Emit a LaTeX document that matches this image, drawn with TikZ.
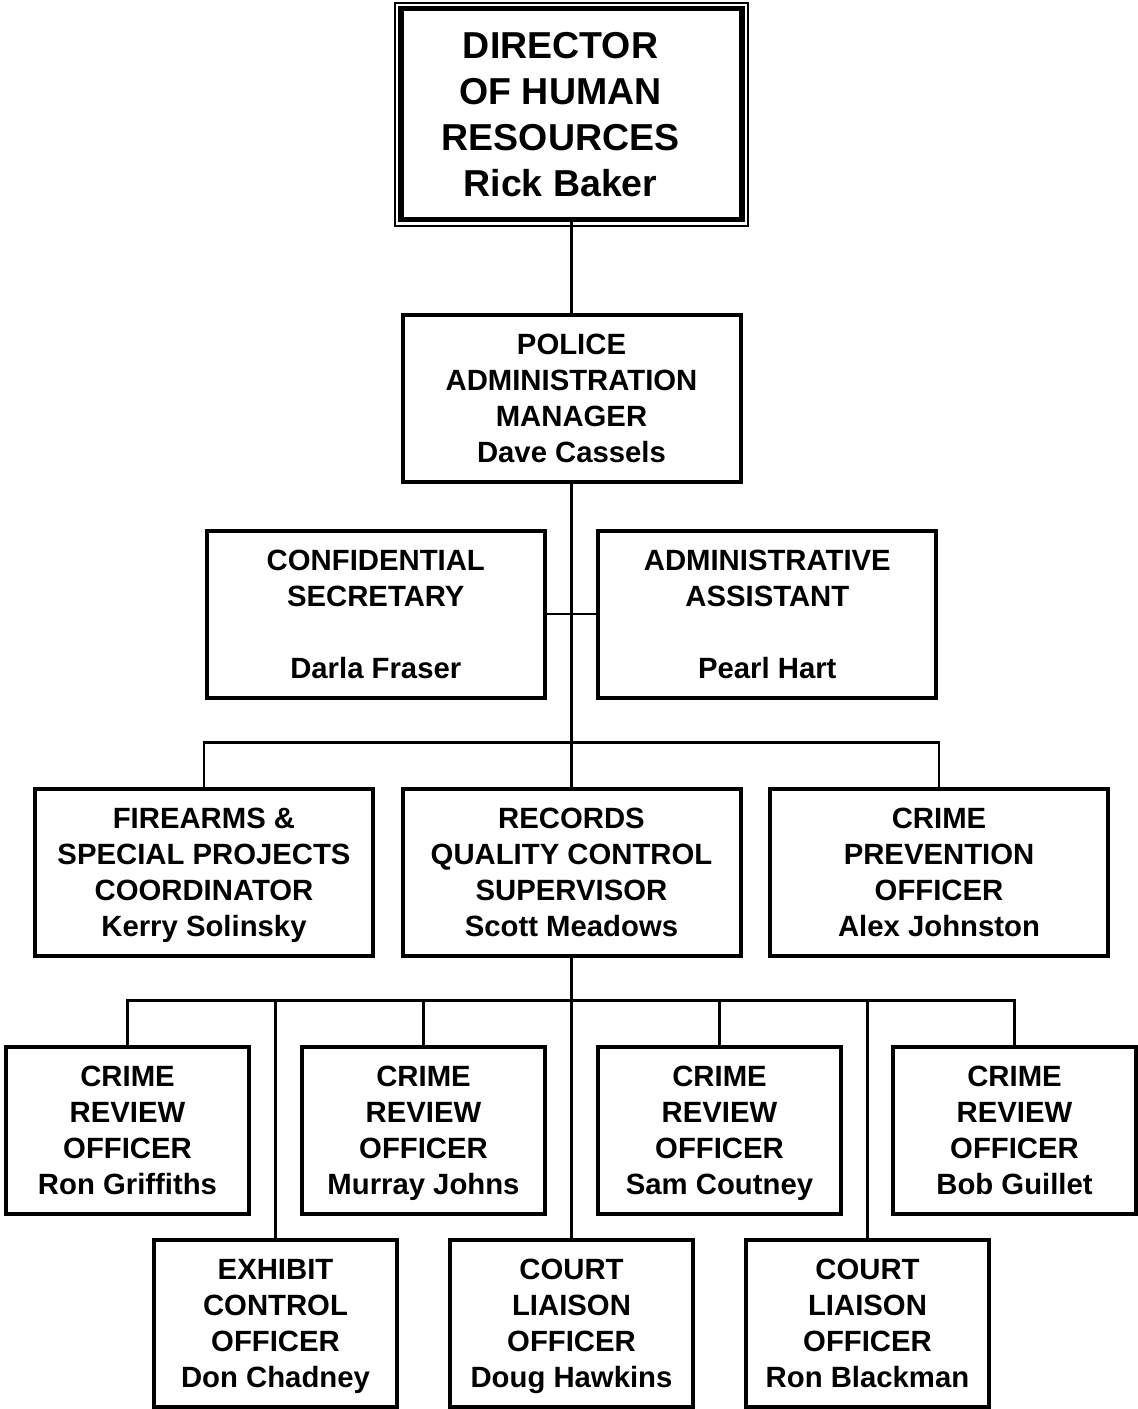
\documentclass[tikz,border=0pt]{standalone}
\usepackage{fontspec}
\setmainfont{Liberation Sans}
\usetikzlibrary{calc}
\usetikzlibrary{positioning}

\tikzset{
  post/.style={draw, line width=4pt, outer sep=0pt, inner sep=0pt,
    minimum width=338pt, minimum height=167pt, align=center,
    font=\bfseries\fontsize{29.3}{36}\selectfont},
  smallpost/.style={post, minimum width=243pt},
  headpost/.style={draw, line width=5.5pt, outer sep=0pt, inner sep=0pt,
    minimum width=340.6pt, minimum height=211pt, align=center,
    font=\bfseries\fontsize{37.5}{46}\selectfont},
  link/.style={line width=2.5pt}
}
\newcommand\who[1]{\smash{#1}}
\newcommand\lpad[1]{#1\hspace*{22pt}\null}

\begin{document}
\begin{tikzpicture}[x=1pt,y=-1pt]
    \useasboundingbox (0,0) rectangle (1138,1409);
    { []
        \node [headpost] (dir) at (571.5,114.2)
            {\lpad{DIRECTOR}\\\lpad{OF HUMAN}\\\lpad{RESOURCES}\\\lpad{Rick Baker}};
        \draw [line width=2pt] ($(dir.north west)+(-6,-6)$) rectangle ($(dir.south east)+(6,6)$);
        \node [post] (pam) at (571.5,398.5) {POLICE\\ADMINISTRATION\\MANAGER\\\who{Dave Cassels}};
        \node [post] (csec) at (375.8,614) {CONFIDENTIAL\\SECRETARY\\[36pt]\who{Darla Fraser}};
        \node [post] (aast) at (767.3,614) {ADMINISTRATIVE\\ASSISTANT\\[36pt]\who{Pearl Hart}};
    }
    { []
        \node [post] (fire) at (204,872.5) {FIREARMS \&\\SPECIAL PROJECTS\\COORDINATOR\\\who{Kerry Solinsky}};
        \node [post] (rqc) at (571.5,872.5) {RECORDS\\QUALITY CONTROL\\SUPERVISOR\\\who{Scott Meadows}};
        \node [post] (cpo) at (939,872.5) {CRIME\\PREVENTION\\OFFICER\\\who{Alex Johnston}};
    }
    { []
        \node [smallpost] (cr1) at (127.5,1130.5) {CRIME\\REVIEW\\OFFICER\\\who{Ron Griffiths}};
        \node [smallpost] (cr2) at (423.5,1130.5) {CRIME\\REVIEW\\OFFICER\\\who{Murray Johns}};
        \node [smallpost] (cr3) at (719.5,1130.5) {CRIME\\REVIEW\\OFFICER\\\who{Sam Coutney}};
        \node [smallpost] (cr4) at (1014.5,1130.5) {CRIME\\REVIEW\\OFFICER\\\who{Bob Guillet}};
        \node [smallpost] (eco) at (275.5,1323) {EXHIBIT\\CONTROL\\OFFICER\\\who{Don Chadney}};
        \node [smallpost] (cl1) at (571.5,1323) {COURT\\LIAISON\\OFFICER\\\who{Doug Hawkins}};
        \node [smallpost] (cl2) at (867.5,1323) {COURT\\LIAISON\\OFFICER\\\who{Ron Blackman}};
    }
    % connectors
    \coordinate (bus3) at (571.5,742.7);
    \coordinate (bus4) at (571.5,1000.7);
    \draw [link] (dir.south) -- (pam.north);
    \draw [link] (pam.south) -- (rqc.north);
    \draw [link] (csec.east) -- (aast.west);
    \draw [link] (fire.north) |- (bus3) -| (cpo.north);
    \draw [link] (rqc.south) -- (cl1.north);
    \draw [link] (cr1.north) |- (bus4) -| (cr4.north);
    \foreach \n in {cr2,cr3,eco,cl2}
        \draw [link] (\n.north) -- (\n.north |- bus4);
\end{tikzpicture}
\end{document}
